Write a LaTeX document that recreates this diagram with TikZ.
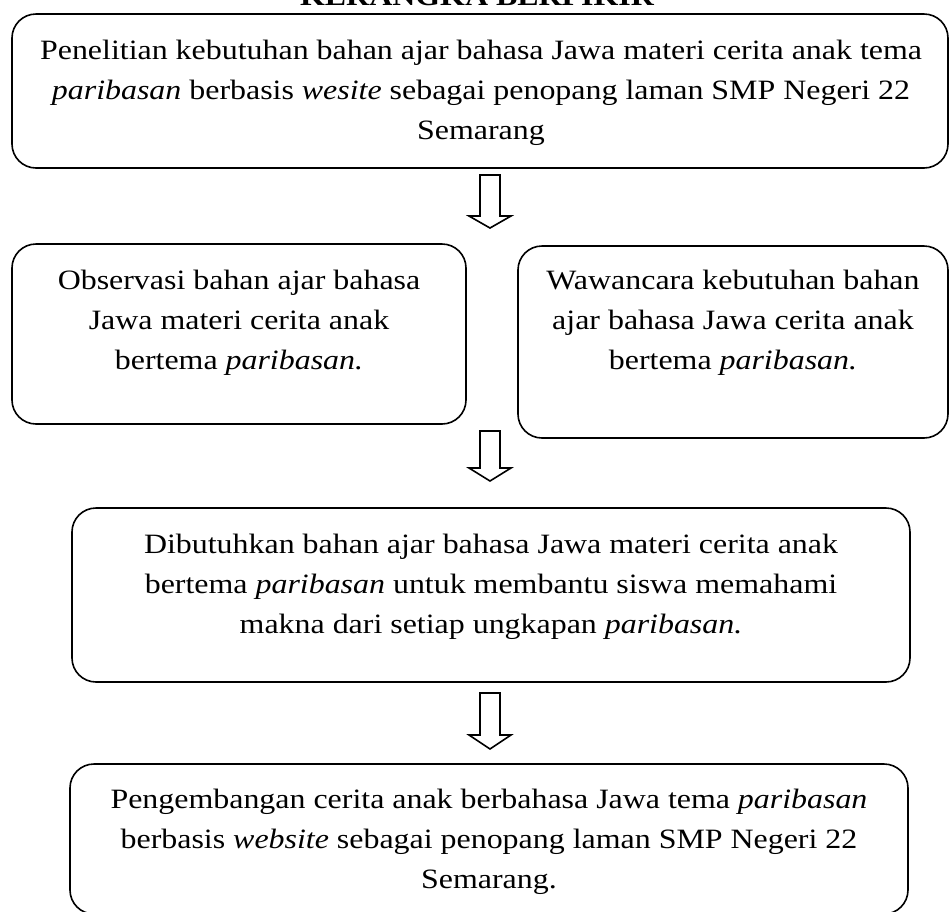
\documentclass[tikz,border=0pt]{standalone}
\usepackage{fontspec}
\setmainfont{Liberation Serif}[FakeStretch=1.14]
\tikzset{
  kotak/.style={draw, line width=0.8pt, rounded corners=12pt},
  isi/.style={align=center, inner sep=0pt, font=\fontsize{14}{20}\selectfont},
  panah/.style={draw, line width=0.8pt, fill=white, line join=miter},
}
\begin{document}
\begin{tikzpicture}[x=0.5pt,y=-0.5pt]
	\useasboundingbox (0,0) rectangle (950,912);
	\node[font=\fontsize{14}{20}\selectfont\bfseries, anchor=base] (judul) at (477,5) {KERANGKA BERPIKIR};
	% kotak atas
	\node[kotak, minimum width=468pt, minimum height=77pt] (teliti) at (480,91) {};
	\node[isi] (telititeks) at (481,93) {Penelitian kebutuhan bahan ajar bahasa Jawa materi cerita anak tema\\
		\textit{paribasan} berbasis \textit{wesite} sebagai penopang laman SMP Negeri 22\\
		Semarang};
	% observasi dan wawancara
	\node[kotak, minimum width=227pt, minimum height=90pt] (obs) at (239,334) {};
	\node[isi] (obsteks) at (239,323) {Observasi bahan ajar bahasa\\ Jawa materi cerita anak\\ bertema \textit{paribasan.}};
	\node[kotak, minimum width=215pt, minimum height=96pt] (waw) at (733,342) {};
	\node[isi] (wawteks) at (733,323) {Wawancara kebutuhan bahan\\ ajar bahasa Jawa cerita anak\\ bertema \textit{paribasan.}};
	% kebutuhan
	\node[kotak, minimum width=419pt, minimum height=87pt] (butuh) at (491,595) {};
	\node[isi] (butuhteks) at (491,587) {Dibutuhkan bahan ajar bahasa Jawa materi cerita anak\\
		bertema \textit{paribasan} untuk membantu siswa memahami\\
		makna dari setiap ungkapan \textit{paribasan.}};
	% pengembangan
	\node[kotak, minimum width=419pt, minimum height=75pt] (kembang) at (489,839) {};
	\node[isi] (kembangteks) at (489,842) {Pengembangan cerita anak berbahasa Jawa tema \textit{paribasan}\\
		berbasis \textit{website} sebagai penopang laman SMP Negeri 22\\
		Semarang.};
	\foreach \a/\b/\c in {175/216/228, 431/468/481, 693/735/749} {
		\draw[panah] (480,\a) -- (500,\a) -- (500,\b) -- (511,\b) -- (490,\c) -- (469,\b) -- (480,\b) -- cycle;
	}
\end{tikzpicture}
\end{document}
